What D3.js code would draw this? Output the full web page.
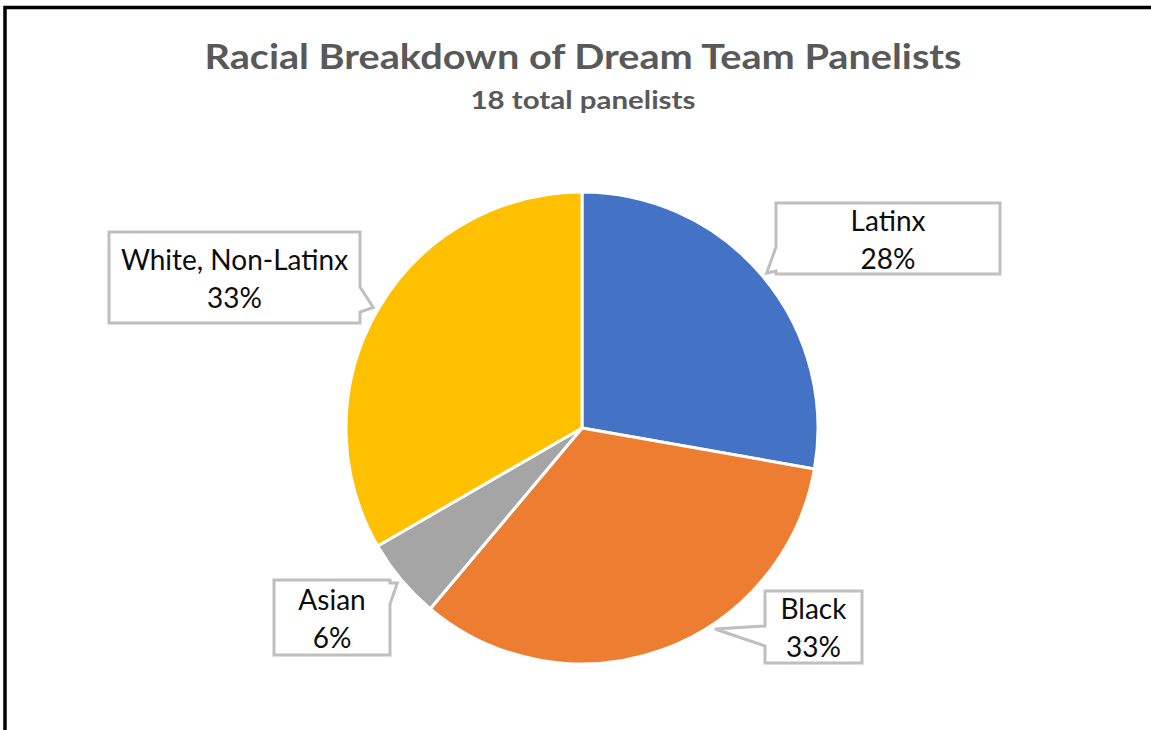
<!DOCTYPE html>
<html>
<head>
    <meta charset="utf-8">
    <title>Racial Breakdown of Dream Team Panelists</title>
    <script src="https://d3js.org/d3.v7.min.js"></script>
    <style>
        body { margin: 0; background: #fff; }
        text { font-family: Lato, "Open Sans", sans-serif; }
    </style>
</head>
<body>
    <div id="chart"></div>
    <script>
        // data
        var categories = ["Latinx", "Black", "Asian", "White, Non-Latinx"];
        var counts = [5, 6, 1, 6];
        var percentLabels = ["28%", "33%", "6%", "33%"];
        var colors = ["#4472C4", "#ED7D31", "#A5A5A5", "#FFC000"];

        var width = 1151, height = 730;
        var cx = 582, cy = 428, radius = 236;

        // callout boxes (layout only)
        var callouts = [
            { x: 776, y: 203, w: 224, h: 71, side: "left", a1: 247, a2: 271, tipAngle: 50 },
            { x: 765, y: 591, w: 97, h: 72, side: "left", a1: 626, a2: 646, tipAngle: 146.5 },
            { x: 274, y: 580, w: 116, h: 75, side: "right", a1: 583, a2: 604, tipAngle: 230 },
            { x: 109, y: 232, w: 251, h: 91, side: "right", a1: 287, a2: 312, tipAngle: 300 }
        ];

        var svg = d3.select("#chart")
            .append("svg")
            .attr("width", width)
            .attr("height", height);

        svg.append("rect")
            .attr("width", width).attr("height", height)
            .attr("fill", "#fff");

        // frame (top and left edges visible)
        svg.append("path")
            .attr("d", "M5,730 L5,7.5 L1151,7.5")
            .attr("fill", "none")
            .attr("stroke", "#000")
            .attr("stroke-width", 3.5);

        svg.append("text")
            .attr("x", 583)
            .attr("y", 69)
            .attr("text-anchor", "middle")
            .attr("font-size", 35)
            .attr("font-weight", "bold")
            .attr("fill", "#595959")
            .attr("textLength", 757)
            .attr("lengthAdjust", "spacingAndGlyphs")
            .text("Racial Breakdown of Dream Team Panelists");

        svg.append("text")
            .attr("x", 583)
            .attr("y", 109)
            .attr("text-anchor", "middle")
            .attr("font-size", 25)
            .attr("font-weight", "bold")
            .attr("fill", "#595959")
            .attr("textLength", 225)
            .attr("lengthAdjust", "spacingAndGlyphs")
            .text("18 total panelists");

        var pie = d3.pie().sort(null).value(function(d) { return d; });
        var arcs = pie(counts);
        var arc = d3.arc().innerRadius(0).outerRadius(radius);

        var g = svg.append("g").attr("transform", `translate(${cx}, ${cy})`);

        g.selectAll(".slice")
            .data(arcs)
            .enter()
            .append("path")
            .attr("class", "slice")
            .attr("d", arc)
            .attr("fill", function(d, i) { return colors[i]; })
            .attr("stroke", "#fff")
            .attr("stroke-width", 3)
            .attr("stroke-linejoin", "round");

        function calloutPath(c) {
            var a = c.tipAngle * Math.PI / 180;
            var tx = cx + (radius + 5) * Math.sin(a);
            var ty = cy - (radius + 5) * Math.cos(a);
            var x0 = c.x, x1 = c.x + c.w, y0 = c.y, y1 = c.y + c.h;
            var p = d3.path();
            p.moveTo(x0, y0);
            p.lineTo(x1, y0);
            if (c.side === "right") {
                p.lineTo(x1, c.a1);
                p.lineTo(tx, ty);
                p.lineTo(x1, c.a2);
            }
            p.lineTo(x1, y1);
            p.lineTo(x0, y1);
            if (c.side === "left") {
                p.lineTo(x0, c.a2);
                p.lineTo(tx, ty);
                p.lineTo(x0, c.a1);
            }
            p.closePath();
            return p.toString();
        }

        var labels = svg.selectAll(".callout")
            .data(callouts)
            .enter()
            .append("g")
            .attr("class", "callout");

        labels.append("path")
            .attr("d", calloutPath)
            .attr("fill", "#fff")
            .attr("stroke", "#BFBFBF")
            .attr("stroke-width", 3)
            .attr("stroke-linejoin", "miter");

        labels.append("text")
            .attr("x", function(c) { return c.x + c.w / 2; })
            .attr("y", function(c) { return c.y + c.h / 2 - 8; })
            .attr("text-anchor", "middle")
            .attr("font-size", 28)
            .attr("fill", "#0d0d0d")
            .text(function(c, i) { return categories[i]; });

        labels.append("text")
            .attr("x", function(c) { return c.x + c.w / 2; })
            .attr("y", function(c) { return c.y + c.h / 2 + 30; })
            .attr("text-anchor", "middle")
            .attr("font-size", 28)
            .attr("fill", "#0d0d0d")
            .text(function(c, i) { return percentLabels[i]; });
    </script>
</body>
</html>
